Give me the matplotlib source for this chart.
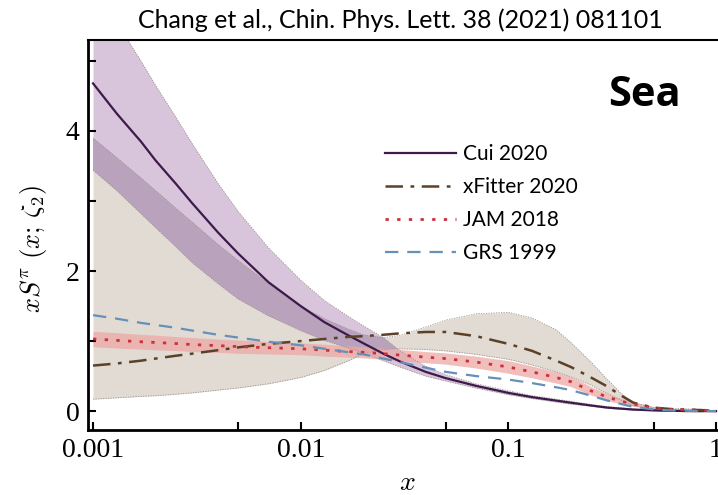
import numpy as np
import matplotlib
matplotlib.use('Agg')
import matplotlib.pyplot as plt
from matplotlib.ticker import FixedLocator, NullFormatter, FixedFormatter

# momentum fraction grid
x = [0.001, 0.0013, 0.0017, 0.002, 0.0025, 0.003, 0.004, 0.005, 0.007, 0.01,
     0.013, 0.017, 0.02, 0.025, 0.03, 0.04, 0.05, 0.07, 0.1, 0.13,
     0.17, 0.2, 0.25, 0.3, 0.35, 0.4, 0.5, 0.6, 0.7, 0.85, 1.0]

# Cui 2020
cui     = [4.68, 4.25, 3.85, 3.58, 3.25, 2.97, 2.55, 2.25, 1.84, 1.50,
           1.27, 1.08, 0.97, 0.82, 0.71, 0.56, 0.47, 0.36, 0.26, 0.20,
           0.15, 0.12, 0.08, 0.05, 0.035, 0.022, 0.01, 0.005, 0.002, 0.0, 0.0]
cui_hi  = [6.10, 5.55, 5.00, 4.65, 4.20, 3.82, 3.25, 2.85, 2.33, 1.87,
           1.58, 1.35, 1.22, 1.05, 0.86, 0.64, 0.52, 0.39, 0.29, 0.22,
           0.17, 0.14, 0.095, 0.065, 0.045, 0.03, 0.015, 0.008, 0.004, 0.002, 0.0]
cui_lo  = [3.44, 3.15, 2.82, 2.62, 2.35, 2.12, 1.82, 1.60, 1.36, 1.15,
           1.01, 0.90, 0.83, 0.72, 0.63, 0.50, 0.43, 0.33, 0.235, 0.18,
           0.13, 0.10, 0.07, 0.04, 0.025, 0.015, 0.005, 0.0, 0.0, 0.0, 0.0]

# xFitter 2020
xfit    = [0.65, 0.68, 0.72, 0.75, 0.79, 0.82, 0.87, 0.91, 0.96, 1.00,
           1.03, 1.06, 1.07, 1.09, 1.11, 1.13, 1.13, 1.07, 0.96, 0.86,
           0.72, 0.63, 0.48, 0.35, 0.22, 0.12, 0.05, 0.03, 0.02, 0.015, 0.0]
xfit_hi = [3.90, 3.62, 3.33, 3.15, 2.90, 2.70, 2.38, 2.15, 1.82, 1.50,
           1.32, 1.17, 1.09, 1.05, 1.08, 1.20, 1.30, 1.39, 1.41, 1.33,
           1.16, 0.98, 0.70, 0.45, 0.25, 0.12, 0.05, 0.04, 0.035, 0.02, 0.0]
xfit_lo = [0.17, 0.19, 0.21, 0.22, 0.24, 0.26, 0.30, 0.33, 0.39, 0.48,
           0.58, 0.72, 0.82, 0.88, 0.89, 0.88, 0.86, 0.81, 0.74, 0.66,
           0.56, 0.49, 0.37, 0.25, 0.15, 0.08, 0.02, 0.0, -0.01, -0.01, 0.0]

# JAM 2018 (central value and half-width of the band)
jam     = [1.03, 1.01, 0.99, 0.98, 0.965, 0.95, 0.935, 0.92, 0.905, 0.89,
           0.87, 0.85, 0.84, 0.82, 0.80, 0.77, 0.75, 0.70, 0.63, 0.56,
           0.48, 0.42, 0.29, 0.20, 0.14, 0.10, 0.045, 0.025, 0.02, 0.015, 0.0]
jam_err = [0.11, 0.11, 0.105, 0.105, 0.10, 0.10, 0.095, 0.095, 0.09, 0.085,
           0.085, 0.08, 0.08, 0.08, 0.08, 0.08, 0.08, 0.085, 0.09, 0.085,
           0.08, 0.07, 0.06, 0.05, 0.04, 0.03, 0.02, 0.015, 0.01, 0.01, 0.01]

# GRS 1999
grs     = [1.37, 1.32, 1.26, 1.23, 1.19, 1.15, 1.09, 1.05, 0.99, 0.94,
           0.89, 0.84, 0.81, 0.75, 0.70, 0.62, 0.56, 0.50, 0.45, 0.40,
           0.34, 0.30, 0.22, 0.15, 0.10, 0.06, 0.025, 0.01, 0.005, 0.0, 0.0]

xticks = [0.001, 0.01, 0.1, 1]
xtick_labels = ['0.001', '0.01', '0.1', '1']
xminor = [0.005, 0.05, 0.5]

plt.rcParams['mathtext.fontset'] = 'cm'

fig = plt.figure(figsize=(7.18, 4.95), dpi=100)
ax = fig.add_axes([0.1226, 0.1313, 0.89, 0.788])

xa = np.array(x)
jam = np.array(jam)
jam_err = np.array(jam_err)
edge = dict(color='#9c948c', lw=0.6, ls=(0, (1.5, 1.5)))

# bands
ax.fill_between(xa, xfit_lo, xfit_hi, color='#e2dbd4', lw=0)
ax.plot(xa, xfit_lo, **edge)
ax.plot(xa, xfit_hi, **edge)
ax.fill_between(xa, cui_lo, cui_hi, color='#d8c5db', lw=0)
ov_lo = np.maximum(cui_lo, xfit_lo)
ov_hi = np.minimum(cui_hi, xfit_hi)
ax.fill_between(xa, ov_lo, ov_hi, where=ov_hi > ov_lo, interpolate=True,
                color='#b9a2bb', lw=0)
ax.plot(xa, cui_lo, **edge)
ax.plot(xa, cui_hi, **edge)
ax.fill_between(xa, jam - jam_err, jam + jam_err, color='#eda8a6', alpha=0.75, lw=0)

# central curves
ax.plot(xa, cui, color='#3d1a4a', lw=1.6, label='Cui 2020')
ax.plot(xa, xfit, color='#5a4128', lw=1.8, ls=(0, (7, 3, 1.5, 3)), label='xFitter 2020')
ax.plot(xa, jam, color='#c8323c', lw=2.0, ls=(0, (1.2, 3)), label='JAM 2018')
ax.plot(xa, grs, color='#6690b8', lw=1.6, ls=(0, (6, 4)), label='GRS 1999')

ax.set_xscale('log')
ax.set_xlim(0.000946, 1.13)
ax.set_ylim(-0.27, 5.3)

ax.xaxis.set_major_locator(FixedLocator(xticks))
ax.xaxis.set_major_formatter(FixedFormatter(xtick_labels))
ax.xaxis.set_minor_locator(FixedLocator(xminor))
ax.xaxis.set_minor_formatter(NullFormatter())
ax.yaxis.set_major_locator(FixedLocator([0, 2, 4]))
ax.yaxis.set_minor_locator(FixedLocator([1, 3, 5]))
ax.tick_params(which='both', direction='in', length=6, width=1.5,
               labelsize=20, top=False, right=False, pad=6)
for lab in ax.get_xticklabels() + ax.get_yticklabels():
    lab.set_family('Liberation Serif')

for s in ['left', 'bottom']:
    ax.spines[s].set_linewidth(2)
ax.spines['top'].set_linewidth(1.5)
ax.spines['right'].set_visible(False)

ax.set_xlabel(r'$x$', fontsize=20, labelpad=3)
fig.text(0.046, 0.497, r'$xS^{\pi}\ (x;\,\zeta_2)$', rotation=90,
         ha='center', va='center', fontsize=19)

leg = ax.legend(loc='upper left', bbox_to_anchor=(0.465, 0.732), frameon=False,
                handlelength=3.4, handletextpad=0.35, labelspacing=0.62,
                borderpad=0, borderaxespad=0,
                prop={'family': 'Lato', 'size': 15})

fig.text(0.898, 0.808, 'Sea', ha='center', va='center', fontsize=30,
         fontweight='bold', family='Open Sans')
fig.text(0.557, 0.960, 'Chang et al., Chin. Phys. Lett. 38 (2021) 081101',
         ha='center', va='center', fontsize=18, family='Lato')

fig.savefig('out.png', dpi=100)
